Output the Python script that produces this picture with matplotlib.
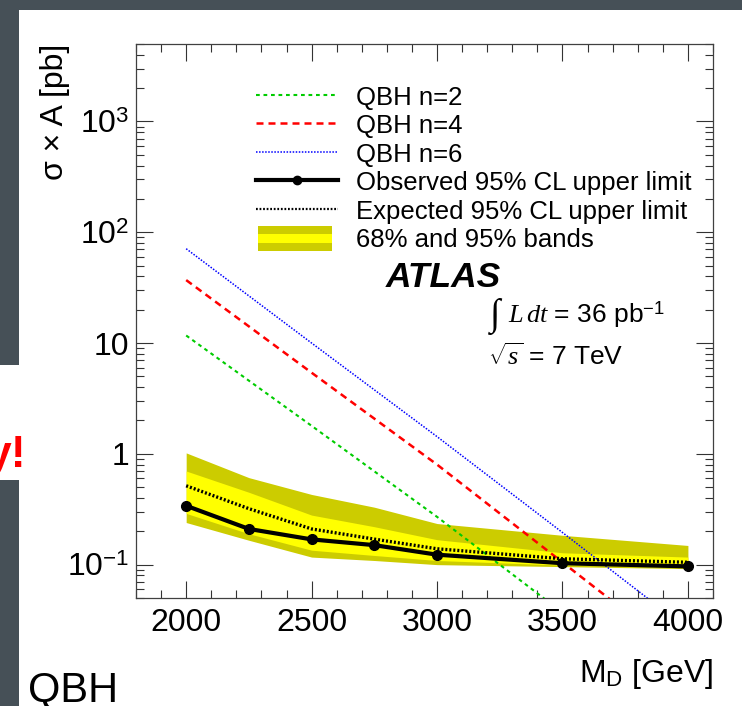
import matplotlib
matplotlib.use('Agg')
import matplotlib.pyplot as plt
from matplotlib.legend_handler import HandlerBase
from matplotlib.patches import Rectangle, Patch
from matplotlib.lines import Line2D
from matplotlib.ticker import MultipleLocator, LogLocator, NullFormatter

plt.rcParams['font.family'] = ['Liberation Sans', 'DejaVu Sans']
plt.rcParams['mathtext.fontset'] = 'custom'
plt.rcParams['mathtext.rm'] = 'Liberation Sans'
plt.rcParams['mathtext.it'] = 'Liberation Serif:italic'
plt.rcParams['mathtext.bf'] = 'Liberation Sans:bold'

# limit points (M_D in GeV, sigma x A in pb)
md_limit = [2000, 2250, 2500, 2750, 3000, 3500, 4000]
observed = [0.34, 0.21, 0.169, 0.150, 0.123, 0.103, 0.0965]
expected = [0.515, 0.32, 0.21, 0.17, 0.139, 0.113, 0.105]
band95_hi = [1.02, 0.61, 0.43, 0.33, 0.235, 0.184, 0.149]
band68_hi = [0.70, 0.45, 0.28, 0.22, 0.168, 0.128, 0.117]
band68_lo = [0.29, 0.19, 0.135, 0.121, 0.109, 0.099, 0.095]
band95_lo = [0.24, 0.166, 0.117, 0.109, 0.100, 0.096, 0.092]

# QBH signal predictions
md_theory = [2000, 2500, 3000, 3500, 4000]
qbh_n2 = [11.7, 1.79, 0.27, 0.037, 0.005]
qbh_n4 = [37, 5.4, 0.80, 0.105, 0.0138]
qbh_n6 = [71, 10, 1.43, 0.195, 0.026]

ytick_vals = [0.1, 1, 10, 100, 1000]
ytick_labels = [r'$10^{-1}$', '1', '10', r'$10^{2}$', r'$10^{3}$']

DARK_YELLOW = '#cccc00'
YELLOW = '#ffff00'
SLIDE_GREY = '#465057'


class BandHandler(HandlerBase):
    def create_artists(self, legend, orig_handle, xdescent, ydescent,
                       width, height, fontsize, trans):
        h = height * 1.1
        y0 = -ydescent - (h - height) / 2
        x0 = -xdescent + 0.03 * width
        w = 0.9 * width
        outer = Rectangle((x0, y0), w, h, facecolor=DARK_YELLOW,
                          edgecolor='none', transform=trans)
        inner = Rectangle((x0, y0 + h * 0.31), w, h * 0.37, facecolor=YELLOW,
                          edgecolor='none', transform=trans)
        return [outer, inner]


fig = plt.figure(figsize=(7.42, 7.06), dpi=100)
fig.patch.set_facecolor('white')

# slide background pieces
fig.add_artist(Rectangle((0, 1 - 10 / 706), 1, 10 / 706, color=SLIDE_GREY, lw=0))
fig.add_artist(Rectangle((0, 1 - 365 / 706), 19 / 742, 365 / 706, color=SLIDE_GREY, lw=0))
fig.add_artist(Rectangle((0, 0), 19 / 742, 1 - 480 / 706, color=SLIDE_GREY, lw=0))
fig.text(26 / 742, 1 - 467 / 706, 'y!', color='#ff0000', fontsize=32,
         fontweight='bold', ha='right', va='baseline')
fig.text(28 / 742, 1 - 701 / 706, 'QBH', color='black', fontsize=30,
         ha='left', va='baseline')

ax = fig.add_axes([136 / 742, 1 - 598 / 706, 577 / 742, 554 / 706])

ax.fill_between(md_limit, band95_lo, band95_hi, color=DARK_YELLOW, lw=0, zorder=1)
ax.fill_between(md_limit, band68_lo, band68_hi, color=YELLOW, lw=0, zorder=2)

ax.plot(md_theory, qbh_n2, color='#00cc00', lw=1.5, ls=(0, (1.8, 1.8)), zorder=4)
ax.plot(md_theory, qbh_n4, color='#ff0000', lw=1.8, ls=(0, (2.8, 2.0)), zorder=4)
ax.plot(md_theory, qbh_n6, color='#0000ff', lw=1.1, ls=(0, (1, 1)), zorder=4)
ax.plot(md_limit, expected, color='black', lw=2.4, ls=(0, (0.6, 0.6)), zorder=5)
ax.plot(md_limit, observed, color='black', lw=3, marker='o', ms=7, zorder=6)

ax.set_xlim(1800, 4100)
ax.set_yscale('log')
ax.set_ylim(0.05, 5000)

ax.xaxis.set_major_locator(MultipleLocator(500))
ax.xaxis.set_minor_locator(MultipleLocator(100))
ax.set_yticks(ytick_vals)
ax.set_yticklabels(ytick_labels)
ax.yaxis.set_minor_locator(LogLocator(base=10, subs=range(2, 10), numticks=30))
ax.yaxis.set_minor_formatter(NullFormatter())

ax.tick_params(which='both', direction='in', top=True, right=True,
               color='#333333', width=0.8)
ax.tick_params(which='major', length=12, labelsize=23)
ax.tick_params(which='minor', length=6)
ax.tick_params(axis='x', pad=7)
ax.tick_params(axis='y', pad=5)
for s in ax.spines.values():
    s.set_color('#404040')
    s.set_linewidth(0.9)

ax.set_ylabel('σ × A [pb]', fontsize=23, loc='top')
ax.yaxis.set_label_coords(-0.114, 1.0)
ax.set_xlabel(r'M$_{\mathrm{D}}$ [GeV]', fontsize=23, loc='right')
ax.xaxis.set_label_coords(1.0, -0.1065)

handles = [
    Line2D([], [], color='#00cc00', lw=1.5, ls=(0, (1.8, 1.8))),
    Line2D([], [], color='#ff0000', lw=1.8, ls=(0, (2.8, 2.0))),
    Line2D([], [], color='#0000ff', lw=1.1, ls=(0, (1, 1))),
    Line2D([], [], color='black', lw=3, marker='o', ms=6),
    Line2D([], [], color='black', lw=1.6, ls=(0, (0.8, 0.8))),
    Patch(),
]
labels = ['QBH n=2', 'QBH n=4', 'QBH n=6', 'Observed 95% CL upper limit',
          'Expected 95% CL upper limit', '68% and 95% bands']
ax.legend(handles, labels, loc='upper left', bbox_to_anchor=(0.208, 0.927),
          frameon=False, fontsize=18.5, handlelength=3.2, handletextpad=0.7,
          handleheight=1.0, labelspacing=0.125, borderpad=0, borderaxespad=0,
          numpoints=1, handler_map={Patch: BandHandler()})

ax.text(0.433, 0.579, 'ATLAS', transform=ax.transAxes, fontsize=25.5,
        fontweight='bold', fontstyle='italic', va='center', ha='left')
ax.text(0.6135, 0.508, '∫', transform=ax.transAxes, fontsize=27,
        family='Liberation Serif', va='center', ha='left')
ax.text(0.645, 0.511, r'$L\,dt$ = 36 pb$^{-1}$', transform=ax.transAxes,
        fontsize=19, va='center', ha='left')
ax.text(0.610, 0.435, r'$\sqrt{s}$ = 7 TeV', transform=ax.transAxes,
        fontsize=19, va='center', ha='left')

fig.savefig('out.png', dpi=100)
